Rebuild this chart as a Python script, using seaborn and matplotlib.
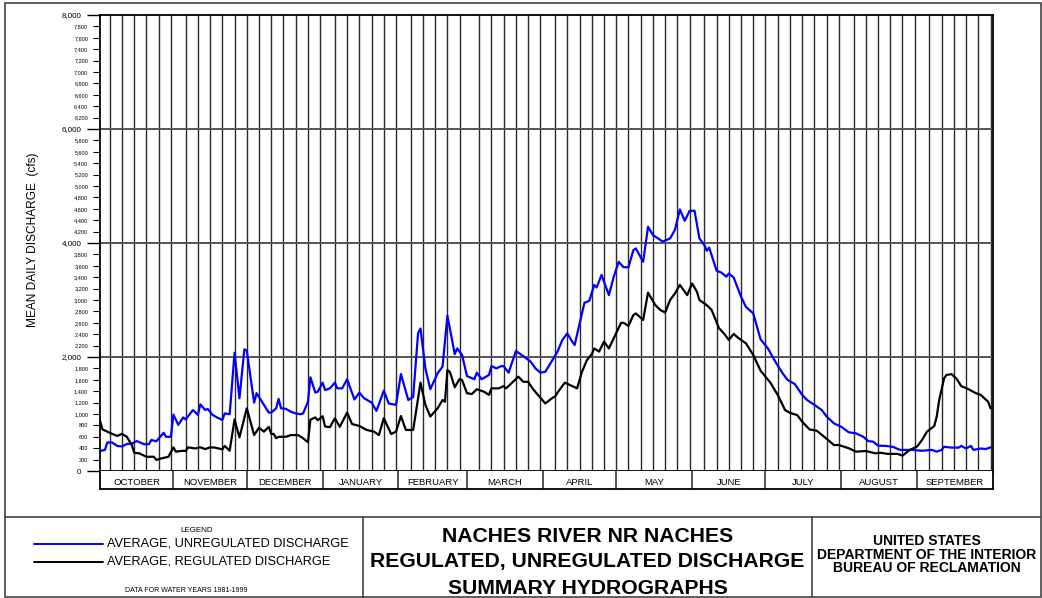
import numpy as np
import pandas as pd
import matplotlib
matplotlib.use("Agg")
import matplotlib.pyplot as plt
import seaborn as sns
from matplotlib.patches import Rectangle
from matplotlib.lines import Line2D

# ---------------- data ----------------
months = ["OCTOBER", "NOVEMBER", "DECEMBER", "JANUARY", "FEBRUARY", "MARCH",
          "APRIL", "MAY", "JUNE", "JULY", "AUGUST", "SEPTEMBER"]
month_days = [31, 30, 31, 31, 28, 31, 30, 31, 30, 31, 31, 30]

major_y = [0, 2000, 4000, 6000, 8000]
major_y_labels = ["0", "2,000", "4,000", "6,000", "8,000"]

# day of water year (0 = Oct 1) and mean daily discharge (cfs)
unreg_day = [0, 2, 3, 5, 7, 9, 11, 13, 15, 18, 20, 21, 23, 26, 27, 29, 30, 32, 34, 35,
             38, 40, 41, 43, 44, 46, 48, 50, 51, 53, 55, 57, 59, 60, 63, 64, 67, 69, 70, 72,
             73, 74, 76, 78, 80, 82, 83, 85, 86, 88, 89, 91, 92, 94, 96, 97, 99, 101, 104, 106,
             108, 111, 113, 116, 118, 121, 123, 126, 128, 130, 131, 133, 135, 138, 140, 142, 145, 146, 148, 150,
             153, 154, 156, 159, 160, 162, 164, 165, 167, 170, 173, 176, 178, 180, 182, 185, 187, 189, 191, 193,
             194, 197, 198, 200, 202, 203, 205, 208, 210, 212, 214, 216, 218, 219, 222, 224, 226, 230, 233, 235,
             237, 239, 241, 243, 245, 247, 248, 249, 252, 254, 256, 257, 259, 262, 264, 267, 270, 273, 276, 279,
             281, 284, 287, 289, 292, 295, 297, 300, 303, 306, 309, 312, 314, 316, 318, 321, 324, 327, 332, 336,
             340, 342, 344, 345, 348, 351, 352, 354, 356, 357, 360, 362, 364]
unreg_cfs = [350, 370, 500, 500, 440, 430, 475, 480, 525, 470, 470, 545, 520, 670, 600, 600, 990, 810, 940, 905,
             1070, 985, 1170, 1070, 1090, 985, 935, 895, 1010, 995, 2075, 1275, 2135, 2110, 1200, 1365, 1160, 1025, 1025, 1100,
             1265, 1100, 1090, 1040, 1010, 995, 1010, 1215, 1645, 1375, 1390, 1550, 1420, 1450, 1550, 1450, 1450, 1610, 1255, 1375,
             1275, 1200, 1055, 1410, 1185, 1160, 1700, 1245, 1300, 2415, 2500, 1800, 1435, 1715, 1830, 2725, 2050, 2150, 2035, 1665,
             1610, 1725, 1610, 1685, 1840, 1800, 1840, 1840, 1725, 2105, 2015, 1920, 1800, 1725, 1740, 1950, 2095, 2300, 2415, 2270,
             2210, 2765, 2950, 2985, 3265, 3220, 3440, 3085, 3410, 3670, 3575, 3575, 3875, 3905, 3670, 4285, 4140, 4025, 4080, 4230,
             4590, 4390, 4565, 4565, 4080, 3965, 3865, 3920, 3515, 3480, 3410, 3465, 3395, 3060, 2880, 2765, 2310, 2150, 1920, 1715,
             1600, 1525, 1335, 1245, 1160, 1070, 955, 835, 775, 680, 660, 600, 525, 515, 445, 440, 425, 370, 370, 355,
             370, 340, 370, 425, 410, 410, 440, 395, 440, 370, 395, 385, 415]

reg_day = [0, 1, 4, 7, 9, 11, 13, 14, 16, 19, 22, 23, 25, 28, 30, 31, 34, 35, 36, 39,
           41, 43, 45, 47, 50, 51, 53, 55, 57, 60, 63, 65, 67, 69, 70, 71, 72, 73, 76, 78,
           81, 83, 85, 86, 88, 89, 91, 92, 94, 96, 98, 101, 103, 106, 109, 112, 114, 116, 119, 121,
           123, 125, 128, 131, 133, 135, 138, 140, 141, 142, 143, 145, 147, 148, 150, 152, 154, 157, 159, 160,
           163, 165, 166, 171, 173, 175, 177, 179, 182, 185, 186, 187, 190, 195, 197, 199, 201, 202, 204, 206,
           208, 210, 213, 214, 216, 218, 219, 222, 224, 227, 229, 231, 233, 235, 237, 240, 242, 244, 245, 248,
           250, 253, 255, 257, 259, 261, 264, 267, 270, 274, 277, 280, 282, 285, 287, 290, 293, 296, 300, 302,
           306, 309, 313, 317, 319, 322, 326, 328, 331, 334, 336, 338, 341, 342, 343, 345, 346, 348, 350, 352,
           355, 358, 360, 363, 364]
reg_cfs = [880, 730, 670, 615, 650, 600, 455, 320, 310, 250, 250, 195, 220, 250, 415, 340, 355, 350, 415, 395,
           415, 385, 415, 410, 380, 440, 355, 905, 590, 1100, 630, 760, 690, 775, 650, 650, 575, 600, 600, 630,
           630, 575, 505, 900, 940, 890, 960, 780, 770, 925, 775, 1025, 825, 790, 720, 690, 630, 925, 650, 690,
           965, 720, 720, 1550, 1160, 955, 1100, 1245, 1215, 1770, 1740, 1470, 1615, 1595, 1365, 1350, 1435, 1390, 1335, 1450,
           1450, 1490, 1450, 1655, 1565, 1565, 1435, 1335, 1185, 1285, 1305, 1375, 1550, 1450, 1740, 1945, 2050, 2150, 2095, 2270,
           2150, 2330, 2600, 2600, 2545, 2735, 2765, 2650, 3130, 2910, 2825, 2780, 3000, 3115, 3265, 3085, 3290, 3145, 3000, 2910,
           2825, 2505, 2415, 2300, 2405, 2330, 2240, 2035, 1760, 1550, 1335, 1070, 1020, 980, 865, 730, 705, 600, 455, 455,
           400, 340, 350, 310, 320, 300, 300, 270, 370, 430, 545, 690, 790, 955, 1245, 1625, 1685, 1700, 1625, 1490,
           1435, 1365, 1335, 1215, 1100]

# ---------------- style ----------------
sns.set_style("white")
plt.rcParams["font.family"] = ["Liberation Sans", "DejaVu Sans"]
plt.rcParams["text.color"] = "black"
plt.rcParams["xtick.color"] = "black"
plt.rcParams["ytick.color"] = "black"
plt.rcParams["axes.labelcolor"] = "black"

W, H = 1042, 598
fig = plt.figure(figsize=(W / 100, H / 100), dpi=100)


def fx(px):
    return px / W


def fy(py):
    return 1 - py / H


def ftext(x, y, s, **kw):
    fig.text(fx(x), fy(y), s, color="black", **kw)


L, R, T, B = 100, 993, 15, 471
ax = fig.add_axes([fx(L), fy(B), fx(R - L), (B - T) / H])
ax.set_xlim(0, 365)
ax.set_ylim(0, 8000)

# grid
starts = np.cumsum([0] + month_days[:-1])
vpos = []
for s, n in zip(starts, month_days):
    for k in range(5, 31, 5):
        if k <= n:
            vpos.append(s + k - 1)
ax.vlines(vpos, 0, 8000, colors="#2a2a2a", lw=1.0, zorder=1)
for yv in [2000, 4000, 6000]:
    ax.axhline(yv, color="#555555", lw=1.4, zorder=1)

df_u = pd.DataFrame({"day": unreg_day, "cfs": unreg_cfs})
df_r = pd.DataFrame({"day": reg_day, "cfs": reg_cfs})
sns.lineplot(data=df_u, x="day", y="cfs", ax=ax, color="#0000ff", lw=1.6, zorder=3)
sns.lineplot(data=df_r, x="day", y="cfs", ax=ax, color="black", lw=1.6, zorder=3)

ax.set_xlabel("")
ax.set_ylabel("")
for sp in ax.spines.values():
    sp.set_linewidth(1.3)
    sp.set_color("black")

# y ticks
ax.set_yticks(major_y)
ax.set_yticklabels(major_y_labels, fontsize=5.8)
minor_y = [v for v in range(0, 8001, 200) if v % 2000 != 0]
ax.set_yticks(minor_y, minor=True)
ax.set_yticklabels([f"{v:,}" for v in minor_y], minor=True, fontsize=4.0)
ax.tick_params(axis="y", which="major", length=9.5, width=1.0, pad=4, direction="out", left=True,
               color="black", labelcolor="black")
ax.tick_params(axis="y", which="minor", length=5, width=0.8, pad=3.5, direction="out", left=True,
               color="black", labelcolor="black")

# x ticks: daily ticks below axis
ax.set_xticks([])
ax.set_xticks(np.arange(0, 366), minor=True)
ax.tick_params(axis="x", which="minor", length=2.5, width=0.6, direction="out", bottom=True,
               labelbottom=False, color="black")

# month box strip
axm = fig.add_axes([fx(L), fy(489), fx(R - L), 18 / H])
axm.set_xlim(0, 365)
axm.set_ylim(0, 1)
axm.set_xticks([])
axm.set_yticks([])
axm.spines["top"].set_visible(False)
for k in ["left", "right", "bottom"]:
    axm.spines[k].set_linewidth(1.3)
    axm.spines[k].set_color("black")
bounds = [0] + [int(s) - 1 for s in starts[1:]] + [365]
axm.vlines(bounds[1:-1], 0, 1, colors="#444444", lw=1.3)
for i, m in enumerate(months):
    axm.text((bounds[i] + bounds[i + 1]) / 2, 0.38, m, ha="center", va="center", fontsize=6.8, color="black")

# y label
ftext(33, 240, "MEAN DAILY DISCHARGE  (cfs)", rotation=90, ha="center", va="center", fontsize=8.6)

# frames for bottom panel
lines = [
    ((5, 1041), (517, 517)),
    ((363, 363), (517, 598)),
    ((812, 812), (517, 598)),
]
for xs, ys in lines:
    fig.add_artist(Line2D([fx(x) for x in xs], [fy(y) for y in ys], color="#444444", lw=1.2))
fig.add_artist(Rectangle((fx(5), fy(597)), fx(1036), 594 / H, fill=False, edgecolor="#444444", lw=1.2))

# legend
ftext(197, 530, "LEGEND", ha="center", va="center", fontsize=5.8)
fig.add_artist(Line2D([fx(34), fx(103)], [fy(544), fy(544)], color="#0000ff", lw=1.4))
fig.add_artist(Line2D([fx(34), fx(103)], [fy(562), fy(562)], color="black", lw=1.4))
ftext(107, 544, "AVERAGE, UNREGULATED DISCHARGE", ha="left", va="center", fontsize=9.2)
ftext(107, 562, "AVERAGE, REGULATED DISCHARGE", ha="left", va="center", fontsize=9.2)
ftext(186, 590, "DATA FOR WATER YEARS 1981-1999", ha="center", va="center", fontsize=5.0)

# title
for yy, s in [(537, "NACHES RIVER NR NACHES"), (562, "REGULATED, UNREGULATED DISCHARGE"),
              (588, "SUMMARY HYDROGRAPHS")]:
    ftext(587.5, yy, s, ha="center", va="center", fontsize=15.2, fontweight="bold")

for yy, s in [(541, "UNITED STATES"), (555, "DEPARTMENT OF THE INTERIOR"), (568, "BUREAU OF RECLAMATION")]:
    ftext(927, yy, s, ha="center", va="center", fontsize=10, fontweight="bold")

fig.savefig("out.png", dpi=100)
